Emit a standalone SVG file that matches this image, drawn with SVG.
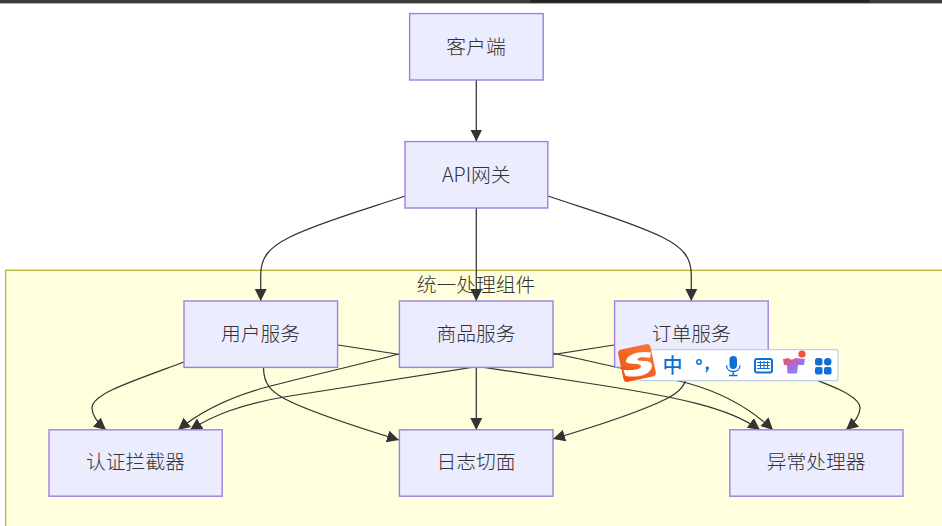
<svg xmlns="http://www.w3.org/2000/svg" width="942" height="526" viewBox="0 0 942 526">
<style>
.n{fill:#ececff;stroke:#9f7fe0;stroke-width:1.4}
.t{font-family:"Noto Sans CJK SC","Noto Sans",sans-serif;font-size:19.8px;fill:#333;text-anchor:middle;dominant-baseline:central;font-weight:300}
.e{fill:none;stroke:#333;stroke-width:1.25}
.b{fill:#0f6fd6}
</style>
<defs>
<marker id="a" markerUnits="userSpaceOnUse" viewBox="0 0 12 12" refX="12" refY="6" markerWidth="12" markerHeight="12" orient="auto"><path d="M0,0L12,6L0,12z" fill="#333"/></marker>
<linearGradient id="g" x1="0" y1="0" x2="1" y2="1"><stop offset="0" stop-color="#f0574a"/><stop offset="0.5" stop-color="#a86be8"/><stop offset="1" stop-color="#4fa8f5"/></linearGradient>
<linearGradient id="s" x1="1" y1="0" x2="0" y2="1"><stop offset="0" stop-color="#f47a3a"/><stop offset="1" stop-color="#f44f0c"/></linearGradient>
</defs>
<rect width="942" height="526" fill="#fff"/>
<rect x="0" y="0" width="942" height="3.4" fill="#3c3c3c"/>
<rect x="530" y="0" width="340" height="2.5" fill="#222"/>
<g id="cluster"><rect x="5.6" y="270.3" width="950" height="270" fill="#ffffde" stroke="#b5b52e" stroke-width="1.3"/><text class="t" x="476" y="283">统一处理组件</text></g>
<g id="connectors">
<path class="e" marker-end="url(#a)" d="M476.3,80V141.5"/>
<path class="e" marker-end="url(#a)" d="M405,196C370,208 320,222 290,237C268,248 260.7,258 260.7,275V301"/>
<path class="e" marker-end="url(#a)" d="M476.3,208V301"/>
<path class="e" marker-end="url(#a)" d="M548,196C583,208 632,222 662,237C684,248 691.3,258 691.3,275V301"/>
<path class="e" marker-end="url(#a)" d="M184,362C130,382 92,394 92,408C92,416 99,424 106,430"/>
<path class="e" marker-end="url(#a)" d="M263.500,367.500C263.500,385 272,392 285,399C310,412 360,428 399,440"/>
<path class="e" marker-end="url(#a)" d="M338,345L580,382C680,397 730,408 760,430"/>
<path class="e" marker-end="url(#a)" d="M399,354C350,367 300,378 267,387C230,397 200,412 178,430"/>
<path class="e" marker-end="url(#a)" d="M476.3,367.500V430"/>
<path class="e" marker-end="url(#a)" d="M553,353C600,364 650,374 687,383C720,392 750,408 773,430"/>
<path class="e" marker-end="url(#a)" d="M614,345L290,396C240,404 212,416 190,430"/>
<path class="e" marker-end="url(#a)" d="M687.500,367.500C687.500,385 680,392 666,399C640,412 590,428 553,439"/>
<path class="e" marker-end="url(#a)" d="M768,362C822,382 860,394 860,408C860,416 853,424 846,430"/>
</g>
<g id="client"><rect class="n" x="409.6" y="13.6" width="133.6" height="66.4"/><text class="t" x="476" y="45">客户端</text></g>
<g id="gateway"><rect class="n" x="405" y="141.6" width="142.8" height="66.4"/><text class="t" x="476.3" y="173">API网关</text></g>
<g id="user"><rect class="n" x="184" y="301" width="153.6" height="66.4"/><text class="t" x="260.6" y="332.500">用户服务</text></g>
<g id="product"><rect class="n" x="399.4" y="301" width="153.6" height="66.4"/><text class="t" x="476" y="332.500">商品服务</text></g>
<g id="order"><rect class="n" x="614.6" y="301" width="153.6" height="66.4"/><text class="t" x="691.200" y="332.500">订单服务</text></g>
<g id="auth"><rect class="n" x="49" y="429.8" width="173.2" height="66.4"/><text class="t" x="135.500" y="460.500">认证拦截器</text></g>
<g id="log"><rect class="n" x="399.4" y="429.8" width="153.6" height="66.4"/><text class="t" x="476" y="460.500">日志切面</text></g>
<g id="error"><rect class="n" x="729.8" y="429.8" width="173.2" height="66.4"/><text class="t" x="816.200" y="460.500">异常处理器</text></g>
<g id="ime">
<rect x="640" y="349.7" width="198" height="31" rx="2" fill="#fff" stroke="#bcd0ee" stroke-width="1.2"/>
<rect x="620.500" y="346.500" width="33" height="33" rx="4" fill="url(#s)" transform="rotate(-12 637 363)"/>
<path d="M651,352.500C640,350.500 627,354 626,361C626,366 642,362 641,366.500C640,370 631,370.500 623.500,370L625.500,376C638,378 651,375 652,366C652.500,358 637,363 637.500,359C638.500,356.500 645,357 650,358z" fill="#fff"/>
<text x="672.500" y="364" font-family="'Noto Sans CJK SC',sans-serif" font-size="20" font-weight="500" fill="#0f6fd6" text-anchor="middle" dominant-baseline="central">中</text>
<circle cx="699" cy="362" r="2.200" fill="none" stroke="#0f6fd6" stroke-width="1.500"/>
<path d="M707,366.500c2,0 2.500,1.500 1.500,3l-2,3l-1,-.5l1,-2.500c-1.500,-1 -1,-3 .5,-3z" class="b"/>
<rect x="729.500" y="356" width="7.500" height="13" rx="3.700" class="b"/>
<path d="M726.500,365.500c0,8 13.500,8 13.500,0M733.200,372v3.500M729,375.500h8.500" fill="none" stroke="#0f6fd6" stroke-width="1.400"/>
<rect x="755" y="359" width="17" height="13.500" rx="2" fill="#fff" stroke="#0f6fd6" stroke-width="2"/>
<path d="M757,362.500h13M757,365.500h13M757,368.500h13M760.500,361v7.500M764,361v7.500M767.500,361v7.500" stroke="#0f6fd6" stroke-width="1"/>
<path d="M783,359L789,358C790,360 793,360 795,358L805,359L804,365L798,365L797,373.500L787.500,373.500L787,365L784,365z" fill="url(#g)"/>
<circle cx="802" cy="354" r="3.600" fill="#f0513a"/>
<rect x="815" y="358" width="7.500" height="7.500" rx="2.500" class="b"/>
<rect x="824" y="358" width="7.500" height="7.500" rx="3.500" class="b"/>
<rect x="815" y="367" width="7.500" height="7.500" rx="2" class="b"/>
<rect x="824" y="367" width="7.500" height="7.500" rx="2" class="b"/>
</g>
</svg>
